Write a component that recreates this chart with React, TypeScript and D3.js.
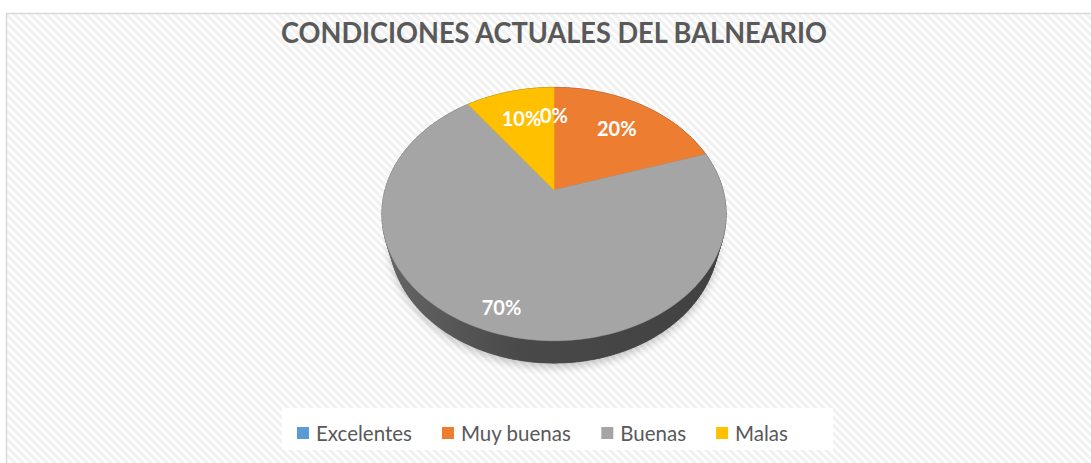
import React from "react";
import * as d3 from "d3";

const categories = ["Excelentes", "Muy buenas", "Buenas", "Malas"];
const values = [0, 20, 70, 10];
const colors = ["#5b9bd5", "#ed7d31", "#a5a5a5", "#ffc000"];
const title = "CONDICIONES ACTUALES DEL BALNEARIO";

const W = 1091;
const H = 463;
const FONT = "Lato, 'Open Sans', sans-serif";

// simple perspective projection of a unit disc
const CX = 554;
const CY = 190;
const SIN_E = 0.7225;
const COS_E = Math.sqrt(1 - SIN_E * SIN_E);
const DIST = 3.64;
const FOCAL = 169 * DIST;
const THICK = 0.22;

function project(phi: number, r: number, y: number): [number, number] {
  const X = r * Math.sin(phi);
  const Z = r * Math.cos(phi);
  const yc = Z * SIN_E + y * COS_E;
  const dc = DIST + Z * COS_E - y * SIN_E;
  return [CX + (FOCAL * X) / dc, CY - (FOCAL * yc) / dc];
}

function arcPts(a0: number, a1: number, y: number): [number, number][] {
  const n = Math.max(2, Math.ceil(((a1 - a0) / (Math.PI * 2)) * 240));
  const pts: [number, number][] = [];
  for (let i = 0; i <= n; i++) pts.push(project(a0 + ((a1 - a0) * i) / n, 1, y));
  return pts;
}

const line = d3.line();

function measure(text: string, font: string): number {
  if (typeof document === "undefined") return text.length * 9;
  const c = document.createElement("canvas").getContext("2d");
  if (!c) return text.length * 9;
  c.font = font;
  return c.measureText(text).width;
}

export default function App() {
  const pie = d3.pie<number>().sort(null).value((d) => d);
  const arcs = pie(values);
  const total = d3.sum(values);

  const sideSegs: { d: string; i: number }[] = [];
  arcs.forEach((a, i) => {
    if (a.endAngle - a.startAngle <= 0) return;
    const top = arcPts(a.startAngle, a.endAngle, 0);
    const bot = arcPts(a.startAngle, a.endAngle, -THICK);
    for (let k = 0; k < top.length - 1; k++) {
      sideSegs.push({
        d: line([top[k], top[k + 1], bot[k + 1], bot[k]])! + "Z",
        i,
      });
    }
  });
  const bottomDisc = line(arcPts(0, Math.PI * 2, -THICK))! + "Z";

  const legendSize = 20.5;
  const legendFont = `${legendSize}px ${FONT}`;
  const legendX0 = 297;
  let lx = legendX0;
  const legendItems = categories.map((c, i) => {
    const x = lx;
    const tw = measure(c, legendFont);
    lx += 12 + 7 + tw + 30;
    return { c, i, x };
  });

  return (
    <svg
      width={W}
      height={H}
      style={{ position: "absolute", left: 0, top: 0 }}
      xmlns="http://www.w3.org/2000/svg"
    >
      <defs>
        <pattern id="hatch" patternUnits="userSpaceOnUse" width={8} height={8}>
          <rect width={8} height={8} fill="#ffffff" />
          <path d="M-2,6 L2,10 M0,0 L8,8 M6,-2 L10,2" stroke="#f1f1f1" strokeWidth={3} />
        </pattern>
        {colors.map((c, i) => {
          const col = d3.color(c)!;
          return (
            <linearGradient
              key={i}
              id={`side${i}`}
              gradientUnits="userSpaceOnUse"
              x1={CX - 172}
              x2={CX + 172}
              y1={0}
              y2={0}
            >
              <stop offset="0" stopColor={col.darker(1.35).formatHex()} />
              <stop offset="0.4" stopColor={col.darker(2.3).formatHex()} />
              <stop offset="1" stopColor={col.darker(2.6).formatHex()} />
            </linearGradient>
          );
        })}
        <filter id="shadow" x="-20%" y="-20%" width="140%" height="140%">
          <feGaussianBlur stdDeviation="4" />
        </filter>
      </defs>

      <rect x={0} y={0} width={W} height={H} fill="#ffffff" />
      <rect x={6.5} y={13.5} width={W + 10} height={H + 10} fill="url(#hatch)" stroke="#d9d9d9" strokeWidth={1.5} />

      <text
        x={554}
        y={43}
        textAnchor="middle"
        fontFamily={FONT}
        fontWeight={700}
        fontSize={28}
        fill="#595959"
        textLength={546}
        lengthAdjust="spacingAndGlyphs"
      >
        {title}
      </text>

      <path d={bottomDisc} transform="translate(0,4)" fill="#000" opacity={0.22} filter="url(#shadow)" />

      <path d={bottomDisc} fill={`url(#side2)`} />
      {sideSegs.map((s, k) => (
        <path key={k} d={s.d} fill={`url(#side${s.i})`} stroke={`url(#side${s.i})`} strokeWidth={0.6} />
      ))}

      {arcs.map((a, i) =>
        a.endAngle - a.startAngle > 0 ? (
          <path
            key={i}
            d={line([[CX, CY], ...arcPts(a.startAngle, a.endAngle, 0)])! + "Z"}
            fill={colors[i]}
            stroke={colors[i]}
            strokeWidth={0.5}
          />
        ) : null
      )}

      {arcs.map((a, i) => {
        const mid = (a.startAngle + a.endAngle) / 2;
        const k = a.data / total >= 0.5 ? 0.85 : 0.7;
        const [x, y] = project(mid, k, 0);
        return (
          <text
            key={i}
            x={x}
            y={y}
            textAnchor="middle"
            dominantBaseline="central"
            fontFamily={FONT}
            fontWeight={700}
            fontSize={20}
            fill="#ffffff"
          >
            {`${Math.round((a.data / total) * 100)}%`}
          </text>
        );
      })}

      <rect x={282} y={408} width={551} height={42} fill="#ffffff" />
      {legendItems.map((it) => (
        <g key={it.i}>
          <rect x={it.x} y={427} width={12} height={12} fill={colors[it.i]} />
          <text
            x={it.x + 19}
            y={433}
            dominantBaseline="central"
            fontFamily={FONT}
            fontSize={legendSize}
            fill="#595959"
          >
            {it.c}
          </text>
        </g>
      ))}
    </svg>
  );
}
